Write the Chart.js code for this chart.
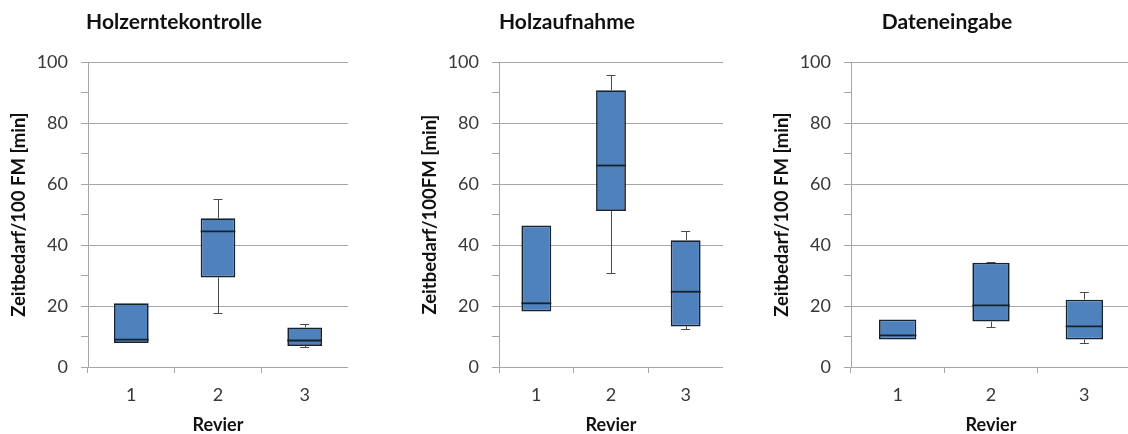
<!DOCTYPE html>
<html>
<head>
<meta charset="utf-8">
<script src="https://cdn.jsdelivr.net/npm/chart.js@4/dist/chart.umd.min.js"></script>
<style>
  html, body { margin: 0; padding: 0; background: #ffffff; }
  body { width: 1128px; height: 434px; position: relative; overflow: hidden; }
  .panel { position: absolute; top: 0; height: 434px; }
</style>
</head>
<body>
<div class="panel" style="left:0px;width:348px"><canvas id="c1"></canvas></div>
<div class="panel" style="left:411px;width:312px"><canvas id="c2"></canvas></div>
<div class="panel" style="left:763px;width:368px"><canvas id="c3"></canvas></div>
<script>
// Revier categories shared by all three panels
const categories = ['1', '2', '3'];

// Holzerntekontrolle: five-number summaries per Revier
const harvestMin = [7.9, 17.6, 6.6];
const harvestQ1  = [7.9, 29.4, 6.9];
const harvestMed = [9.0, 44.5, 8.7];
const harvestQ3  = [20.9, 48.8, 13.0];
const harvestMax = [20.9, 55.1, 14.0];

// Holzaufnahme
const intakeMin = [18.2, 31.0, 12.6];
const intakeQ1  = [18.2, 51.2, 13.3];
const intakeMed = [20.9, 66.1, 24.7];
const intakeQ3  = [46.4, 90.8, 41.6];
const intakeMax = [46.4, 95.7, 44.7];

// Dateneingabe
const entryMin = [9.0, 13.0, 7.9];
const entryQ1  = [9.0, 14.9, 9.0];
const entryMed = [10.4, 20.2, 13.3];
const entryQ3  = [15.6, 34.2, 22.1];
const entryMax = [15.6, 34.5, 24.7];

// y axis tick values (labels every 20, minor marks every 10)
const yTicks = [0, 10, 20, 30, 40, 50, 60, 70, 80, 90, 100];

const FONT = 'Lato, "Open Sans", sans-serif';
const BOX_FILL = '#4f81bd';
const BOX_EDGE = '#17222f';
const GRID = '#a6a6a6';
const TEXT = '#383838';

// Draws whiskers and the median line on top of each box
const boxExtras = {
  id: 'boxExtras',
  afterDatasetsDraw(chart, args, opts) {
    const { ctx } = chart;
    const x = chart.scales.x, y = chart.scales.y;
    const meta = chart.getDatasetMeta(0);
    ctx.save();
    meta.data.forEach((bar, i) => {
      const cx = x.getPixelForValue(i);
      const half = bar.width / 2;
      const yq1 = y.getPixelForValue(opts.q1[i]);
      const yq3 = y.getPixelForValue(opts.q3[i]);
      const ymin = y.getPixelForValue(opts.min[i]);
      const ymax = y.getPixelForValue(opts.max[i]);
      const capHalf = 4.5;
      ctx.strokeStyle = '#4a4a4a';
      ctx.lineWidth = 1;
      if (opts.max[i] > opts.q3[i]) {
        ctx.beginPath();
        ctx.moveTo(Math.round(cx) + 0.5, yq3);
        ctx.lineTo(Math.round(cx) + 0.5, Math.round(ymax) + 0.5);
        ctx.moveTo(cx - capHalf, Math.round(ymax) + 0.5);
        ctx.lineTo(cx + capHalf, Math.round(ymax) + 0.5);
        ctx.stroke();
      }
      if (opts.min[i] < opts.q1[i]) {
        ctx.beginPath();
        ctx.moveTo(Math.round(cx) + 0.5, yq1);
        ctx.lineTo(Math.round(cx) + 0.5, Math.round(ymin) + 0.5);
        ctx.moveTo(cx - capHalf, Math.round(ymin) + 0.5);
        ctx.lineTo(cx + capHalf, Math.round(ymin) + 0.5);
        ctx.stroke();
      }
      // median
      const ym = y.getPixelForValue(opts.med[i]);
      ctx.strokeStyle = BOX_EDGE;
      ctx.lineWidth = 1.8;
      ctx.beginPath();
      ctx.moveTo(cx - half, ym);
      ctx.lineTo(cx + half, ym);
      ctx.stroke();
    });
    ctx.restore();
  }
};

function makePanel(id, title, yTitle, q1, med, q3, min, max) {
  const boxes = q1.map((v, i) => [v, q3[i]]);
  return new Chart(document.getElementById(id), {
    type: 'bar',
    data: {
      labels: categories,
      datasets: [{
        data: boxes,
        backgroundColor: BOX_FILL,
        borderColor: BOX_EDGE,
        borderWidth: 1.7,
        borderSkipped: false,
        barPercentage: 0.4,
        categoryPercentage: 1.0
      }]
    },
    options: {
      responsive: true,
      maintainAspectRatio: false,
      animation: false,
      layout: { padding: { left: 0, right: 0, top: 0, bottom: 0 } },
      plugins: {
        legend: { display: false },
        tooltip: { enabled: false },
        title: {
          display: true,
          text: title,
          color: '#111111',
          font: { family: FONT, size: 21, weight: 'bold' },
          padding: { top: 10, bottom: 27 }
        },
        boxExtras: { q1, med, q3, min, max }
      },
      scales: {
        x: {
          type: 'category',
          offset: true,
          border: { display: true, color: GRID, width: 1 },
          grid: {
            offset: true,
            drawOnChartArea: false,
            drawTicks: true,
            tickLength: 6,
            tickColor: GRID
          },
          ticks: {
            color: TEXT,
            font: { family: FONT, size: 18 },
            padding: 11
          },
          title: {
            display: true,
            text: 'Revier',
            color: '#111111',
            font: { family: FONT, size: 18, weight: 'bold', lineHeight: 1.0 },
            padding: { top: 7, bottom: 0 }
          },
          afterFit(s) { s.height = 67; }
        },
        y: {
          min: 0,
          max: 100,
          afterBuildTicks(s) { s.ticks = yTicks.map(v => ({ value: v })); },
          border: { display: true, color: GRID, width: 1 },
          grid: {
            color: c => (c.tick && c.tick.value % 20 === 0) ? GRID : 'rgba(0,0,0,0)',
            tickColor: GRID,
            tickLength: 7,
            drawTicks: true
          },
          ticks: {
            color: TEXT,
            font: { family: FONT, size: 18 },
            padding: 13,
            callback: v => (v % 20 === 0 ? String(v) : '')
          },
          title: {
            display: true,
            text: yTitle,
            color: '#111111',
            font: { family: FONT, size: 18.5, weight: 'bold' },
            padding: { top: 8, bottom: 0 }
          },
          afterFit(s) { s.width = 88; }
        }
      }
    },
    plugins: [boxExtras]
  });
}

makePanel('c1', 'Holzerntekontrolle', 'Zeitbedarf/100 FM [min]',
  harvestQ1, harvestMed, harvestQ3, harvestMin, harvestMax);
makePanel('c2', 'Holzaufnahme', 'Zeitbedarf/100FM [min]',
  intakeQ1, intakeMed, intakeQ3, intakeMin, intakeMax);
makePanel('c3', 'Dateneingabe', 'Zeitbedarf/100 FM [min]',
  entryQ1, entryMed, entryQ3, entryMin, entryMax);
</script>
</body>
</html>
